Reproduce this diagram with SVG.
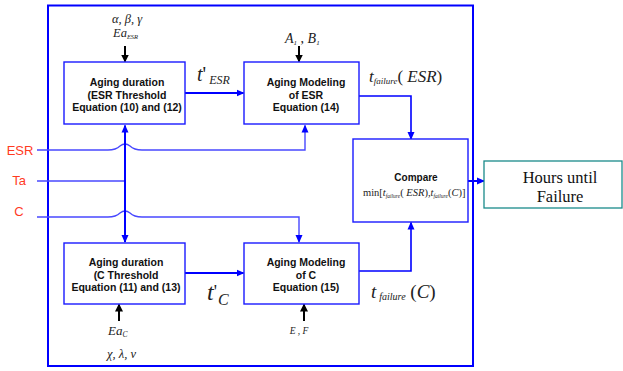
<svg xmlns="http://www.w3.org/2000/svg" width="623" height="371" viewBox="0 0 623 371">
<defs>
<marker id="ab" markerWidth="8" markerHeight="8" refX="7" refY="4" orient="auto" markerUnits="userSpaceOnUse"><path d="M0,0.5 L8,4 L0,7.5 Z" fill="#0000ff"/></marker>
<marker id="ak" markerWidth="8" markerHeight="9" refX="7" refY="4.5" orient="auto" markerUnits="userSpaceOnUse"><path d="M0,0.5 L8,4.5 L0,8.5 Z" fill="#000"/></marker>
<style>
.box{fill:#fff;stroke:#1a1aff;stroke-width:1.4}
.bt{font-family:"Liberation Sans",Arial,sans-serif;font-weight:bold;font-size:10.5px;fill:#111;text-anchor:middle}
.m{font-family:"Liberation Serif","Times New Roman",serif;font-style:italic;fill:#222}
.up{font-style:normal}
.in{font-family:"Liberation Sans",Arial,sans-serif;font-size:13px;fill:#ff3b1f;text-anchor:middle}
.w{fill:none;stroke:#0000ff;stroke-width:2}
.t{fill:none;stroke:#4848ff;stroke-width:1.4}
.k{fill:none;stroke:#000;stroke-width:2}
</style>
</defs>
<rect x="48" y="5.5" width="425" height="360.5" fill="none" stroke="#0000ff" stroke-width="2"/>
<g id="connectors">
<path class="t" d="M37,150 H108 Q116,150 120,146 Q125,142 130,146 Q134,150 142,150 H305 V125.5" marker-end="url(#ab)"/>
<path class="t" d="M37,181 H125"/>
<path class="t" d="M37,217 H108 Q116,217 120,213 Q125,209 130,213 Q134,217 142,217 H299 V242" marker-end="url(#ab)"/>
<path class="w" d="M125,180 V125.5" marker-end="url(#ab)"/>
<path class="w" d="M125,180 V242" marker-end="url(#ab)"/>
<path class="w" d="M185,93 H243.5" marker-end="url(#ab)"/>
<path class="w" d="M185,273 H243.5" marker-end="url(#ab)"/>
<path class="t" d="M359,96 H411 V139" marker-end="url(#ab)" style="stroke:#0000ff;stroke-width:1.6"/>
<path class="t" d="M359,271 H411 V222.5" marker-end="url(#ab)" style="stroke:#0000ff;stroke-width:1.6"/>
<path class="w" d="M468,181 H484" marker-end="url(#ab)"/>
<path class="k" d="M125,46 V61.5" marker-end="url(#ak)"/>
<path class="k" d="M299,46 V61.5" marker-end="url(#ak)"/>
<path class="k" d="M119,321 V304.5" marker-end="url(#ak)"/>
<path class="k" d="M304,321 V304.5" marker-end="url(#ak)"/>
</g>
<g id="inputs">
<text class="in" x="20" y="155">ESR</text>
<text class="in" x="19" y="185">Ta</text>
<text class="in" x="19" y="216">C</text>
</g>
<g id="box1">
<rect class="box" x="64" y="62" width="121" height="62"/>
<text class="bt" x="127" y="86">Aging duration</text>
<text class="bt" x="127" y="99">(ESR Threshold</text>
<text class="bt" x="127" y="111">Equation (10) and (12)</text>
</g>
<g id="box2">
<rect class="box" x="244" y="62" width="115" height="62"/>
<text class="bt" x="306" y="86">Aging Modeling</text>
<text class="bt" x="306" y="99">of ESR</text>
<text class="bt" x="306" y="111">Equation (14)</text>
</g>
<g id="box3">
<rect class="box" x="64" y="243" width="121" height="61"/>
<text class="bt" x="126" y="266">Aging duration</text>
<text class="bt" x="126" y="279">(C Threshold</text>
<text class="bt" x="126" y="291">Equation (11) and (13)</text>
</g>
<g id="box4">
<rect class="box" x="244" y="243" width="115" height="61"/>
<text class="bt" x="306" y="266">Aging Modeling</text>
<text class="bt" x="306" y="279">of C</text>
<text class="bt" x="306" y="291">Equation (15)</text>
</g>
<g id="compare">
<rect class="box" x="353" y="139" width="115" height="83"/>
<text class="bt" x="416" y="181" style="font-size:10px">Compare</text>
<text class="m" x="363" y="196" style="font-size:10.5px"><tspan class="up">min[</tspan>t<tspan font-size="5.5" dy="2">failure</tspan><tspan dy="-2" class="up">(</tspan> ESR<tspan class="up">),</tspan>t<tspan font-size="5.5" dy="2">failure</tspan><tspan dy="-2" class="up">(</tspan>C<tspan class="up">)]</tspan></text>
</g>
<g id="output">
<rect x="484" y="161" width="138" height="47" fill="#fff" stroke="#1a8a8a" stroke-width="1.3"/>
<text x="560" y="183" style="font-family:'Liberation Serif','Times New Roman',serif;font-size:16.5px;fill:#111;text-anchor:middle">Hours until</text>
<text x="560" y="202" style="font-family:'Liberation Serif','Times New Roman',serif;font-size:16.5px;fill:#111;text-anchor:middle">Failure</text>
</g>
<g id="labels">
<text class="m" x="127" y="23" text-anchor="middle" style="font-size:12.5px">α, β, γ</text>
<text class="m" x="113" y="37" style="font-size:12.5px">Ea<tspan font-size="6.5" dy="2">ESR</tspan></text>
<text class="m" x="285" y="43" style="font-size:14px">A<tspan font-size="7" dy="2">1</tspan><tspan dy="-2" class="up"> , </tspan>B<tspan font-size="7" dy="2">1</tspan></text>
<text class="m" x="197" y="81" style="font-size:20px">t<tspan class="up">'</tspan><tspan font-size="12" dx="3" dy="3">ESR</tspan></text>
<text class="m" x="369" y="82" style="font-size:17px">t<tspan font-size="9" dy="2">failure</tspan><tspan dy="-2" class="up">(</tspan> ESR<tspan class="up">)</tspan></text>
<text class="m" x="207" y="300" style="font-size:24px">t<tspan class="up" font-size="18" dy="-2">'</tspan><tspan font-size="16" dx="1" dy="7">C</tspan></text>
<text class="m" x="371" y="298" style="font-size:19px">t<tspan font-size="10" dx="3" dy="2">failure</tspan><tspan dy="-2" class="up"> (</tspan>C<tspan class="up">)</tspan></text>
<text class="m" x="108" y="335" style="font-size:13px">Ea<tspan font-size="7.5" dy="2">C</tspan></text>
<text class="m" x="107" y="358" style="font-size:12.5px">χ, λ, ν</text>
<text class="m" x="299" y="334" text-anchor="middle" style="font-size:9.5px">E <tspan class="up">,</tspan> F</text>
</g>
</svg>
